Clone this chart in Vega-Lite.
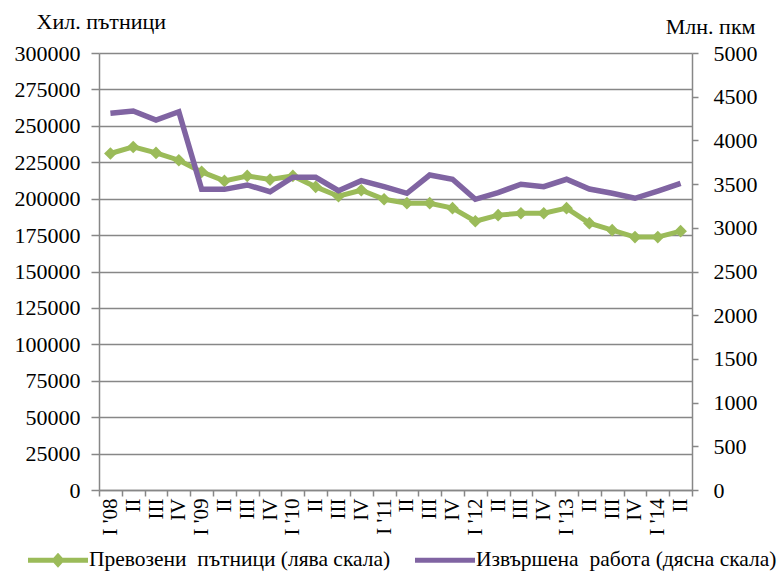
{
  "$schema": "https://vega.github.io/schema/vega-lite/v6.json",
  "width": 593,
  "height": 437,
  "autosize": {"type": "none"},
  "padding": {"left": 99, "top": 53, "right": 85, "bottom": 84},
  "background": "white",
  "config": {
    "font": "Liberation Serif",
    "view": {"stroke": null},
    "axis": {"labelFont": "Liberation Serif", "titleFont": "Liberation Serif", "labelFontSize": 22, "titleFontSize": 22, "labelColor": "#000000", "titleColor": "#000000", "titleFontWeight": "normal", "domainColor": "#878787", "tickColor": "#878787", "gridColor": "#878787", "domainWidth": 1.5, "tickWidth": 1.5, "gridWidth": 1.5},
    "legend": {"labelFont": "Liberation Serif", "labelFontSize": 21.5, "labelColor": "#000000"}
  },
  "data": {"values": [
    {"i": 0, "p": 231000, "w": 4310},
    {"i": 1, "p": 235500, "w": 4336},
    {"i": 2, "p": 231400, "w": 4233},
    {"i": 3, "p": 226400, "w": 4328},
    {"i": 4, "p": 218400, "w": 3440},
    {"i": 5, "p": 212200, "w": 3440},
    {"i": 6, "p": 215600, "w": 3490},
    {"i": 7, "p": 213100, "w": 3413},
    {"i": 8, "p": 215600, "w": 3578},
    {"i": 9, "p": 208100, "w": 3578},
    {"i": 10, "p": 201700, "w": 3424},
    {"i": 11, "p": 205800, "w": 3539},
    {"i": 12, "p": 199600, "w": 3472},
    {"i": 13, "p": 196900, "w": 3395},
    {"i": 14, "p": 196900, "w": 3604},
    {"i": 15, "p": 193500, "w": 3555},
    {"i": 16, "p": 184500, "w": 3326},
    {"i": 17, "p": 188700, "w": 3402},
    {"i": 18, "p": 190000, "w": 3498},
    {"i": 19, "p": 190000, "w": 3470},
    {"i": 20, "p": 193500, "w": 3555},
    {"i": 21, "p": 183200, "w": 3444},
    {"i": 22, "p": 178400, "w": 3395},
    {"i": 23, "p": 173600, "w": 3338},
    {"i": 24, "p": 173600, "w": 3421},
    {"i": 25, "p": 177700, "w": 3509}
  ]},
  "encoding": {
    "x": {
      "field": "i", "type": "ordinal",
      "scale": {"type": "band", "paddingInner": 0, "paddingOuter": 0},
      "axis": {
        "title": null, "labelAngle": -90, "labelAlign": "right", "labelBaseline": "middle",
        "labelPadding": 2, "tickSize": 6, "tickBand": "extent", "labelFontSize": 21,
        "labelExpr": "[\"I '08\",'II','III','IV',\"I '09\",'II','III','IV',\"I '10\",'II','III','IV',\"I '11\",'II','III','IV',\"I '12\",'II','III','IV',\"I '13\",'II','III','IV',\"I '14\",'II'][datum.value]"
      }
    }
  },
  "layer": [
    {
      "mark": {"type": "line", "strokeWidth": 5, "point": {"shape": "diamond", "size": 160, "filled": true, "opacity": 1}},
      "encoding": {
        "y": {"field": "p", "type": "quantitative",
          "scale": {"domain": [0, 300000], "nice": false},
          "axis": {"values": [0,25000,50000,75000,100000,125000,150000,175000,200000,225000,250000,275000,300000], "format": "d", "grid": true, "tickSize": 8, "labelPadding": 11,
            "title": "Хил. пътници", "titleAngle": 0, "titleAlign": "left", "titleBaseline": "alphabetic", "titleX": -63, "titleY": -25}},
        "color": {"datum": "Превозени\u00a0 пътници (лява скала)", "type": "nominal",
          "scale": {"domain": ["Превозени\u00a0 пътници (лява скала)", "Извършена\u00a0 работа (дясна скала)"], "range": ["#9BBB59", "#8064A2"]},
          "legend": {
            "title": null, "orient": "none", "direction": "horizontal", "legendX": -71, "legendY": 477,
            "symbolSize": 3600, "symbolStrokeWidth": 0, "labelOffset": 1, "columnPadding": 24, "labelLimit": 500,
            "encode": {"symbols": {"update": {
              "shape": {"signal": "datum.value === 'Превозени\u00a0 пътници (лява скала)' ? 'M-1,-0.085L-0.15,-0.085L0,-0.25L0.15,-0.085L1,-0.085L1,0.085L0.15,0.085L0,0.25L-0.15,0.085L-1,0.085Z' : 'M-1,-0.085L1,-0.085L1,0.085L-1,0.085Z'"},
              "size": {"value": 3600},
              "fill": {"scale": "color", "field": "value"},
              "stroke": {"value": "transparent"},
              "opacity": {"value": 1}
            }}}
          }}
      }
    },
    {
      "mark": {"type": "line", "strokeWidth": 5.5},
      "encoding": {
        "y": {"field": "w", "type": "quantitative",
          "scale": {"domain": [0, 5000], "nice": false},
          "axis": {"orient": "right", "values": [0,500,1000,1500,2000,2500,3000,3500,4000,4500,5000], "format": "d", "grid": false, "tickSize": 6, "labelPadding": 15,
            "title": "Млн. пкм", "titleAngle": 0, "titleAlign": "right", "titleBaseline": "alphabetic", "titleX": 63, "titleY": -20}},
        "color": {"datum": "Извършена\u00a0 работа (дясна скала)", "type": "nominal"}
      }
    }
  ],
  "resolve": {"scale": {"y": "independent"}}
}
